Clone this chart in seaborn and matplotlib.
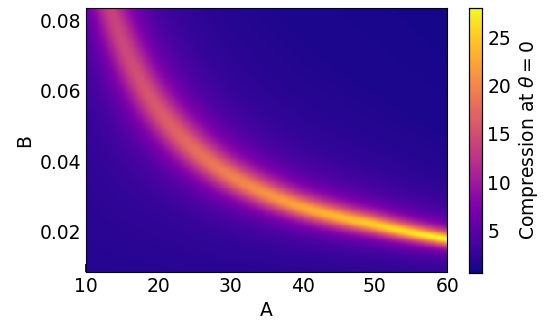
import numpy as np
import pandas as pd
import seaborn as sns
import matplotlib
matplotlib.use("Agg")
import matplotlib.pyplot as plt

# ---- values ----
A_knots = [10, 20, 30, 40, 50, 60]                       # A positions
ridge_B = [0.112, 0.0545, 0.0358, 0.0268, 0.0219, 0.0178]  # B of the bright ridge
peak_vals = [12.5, 16.0, 19.5, 22.5, 25.3, 28.0]          # compression on the ridge
ridge_width = [0.21, 0.16, 0.135, 0.12, 0.11, 0.1]        # log half-width of the ridge
base_below = 1.5        # level far below the ridge
base_above = 0.67       # level far above the ridge
color_range = [0.67, 28.0]
A_range = [10, 60]
B_range = [0.0085, 0.0835]
x_ticks = [10, 20, 30, 40, 50, 60]
y_ticks = [0.02, 0.04, 0.06, 0.08]
cbar_ticks = [5, 10, 15, 20, 25]

nA, nB = 400, 300
A = np.linspace(A_range[0], A_range[1], nA)
B = np.linspace(B_range[0], B_range[1], nB)
AA, BB = np.meshgrid(A, B)
prod = np.interp(AA, A_knots, np.array(A_knots) * np.array(ridge_B))
Bc = prod / AA
P = np.interp(AA, A_knots, peak_vals)
W = np.interp(AA, A_knots, ridge_width)
d = np.log(BB / Bc)
base = base_above + (base_below - base_above) / (1 + np.exp(d / 0.3))
C = base + (P - base) / (1 + (d / W) ** 2) ** 0.8

df = pd.DataFrame(C[::-1], index=B[::-1], columns=A)

sns.set_style("white")
plt.rcParams['font.family'] = ['DejaVu Sans']
for k in ["text.color", "axes.labelcolor", "xtick.color", "ytick.color"]:
    plt.rcParams[k] = "black"
fs = 13.5
fig = plt.figure(figsize=(5.5, 3.33), dpi=100)
ax = fig.add_axes([0.156, 0.183, 0.657, 0.793])
cax = fig.add_axes([0.853, 0.181, 0.024, 0.795])
sns.heatmap(df, ax=ax, cbar_ax=cax, cmap="plasma", xticklabels=False,
            yticklabels=False, rasterized=True,
            vmin=color_range[0], vmax=color_range[1],
            cbar_kws={"label": r"Compression at $\theta = 0$"})

def xpos(v):
    return (v - A_range[0]) / (A_range[1] - A_range[0]) * nA

def ypos(v):
    return (B_range[1] - v) / (B_range[1] - B_range[0]) * nB

ax.set_xticks([xpos(v) for v in x_ticks])
ax.set_xticklabels([str(v) for v in x_ticks])
ax.set_yticks([ypos(v) for v in y_ticks])
ax.set_yticklabels([f"{v:.2f}" for v in y_ticks], rotation=0)
ax.set_xlabel("A", fontsize=fs)
ax.set_ylabel("B", fontsize=fs)
ax.tick_params(direction="in", length=6, width=1.2, labelsize=fs, color="black",
               bottom=True, left=True)
for s in ax.spines.values():
    s.set_visible(True)
    s.set_color("black")
    s.set_linewidth(0.8)

cbar = ax.collections[0].colorbar
cbar.set_ticks(cbar_ticks)
cax.tick_params(direction="in", length=6, width=1.2, labelsize=fs, color="black")
cax.yaxis.label.set_size(fs)
for s in cax.spines.values():
    s.set_visible(True)
    s.set_color("black")
    s.set_linewidth(0.8)

fig.savefig("out.png", dpi=100)
